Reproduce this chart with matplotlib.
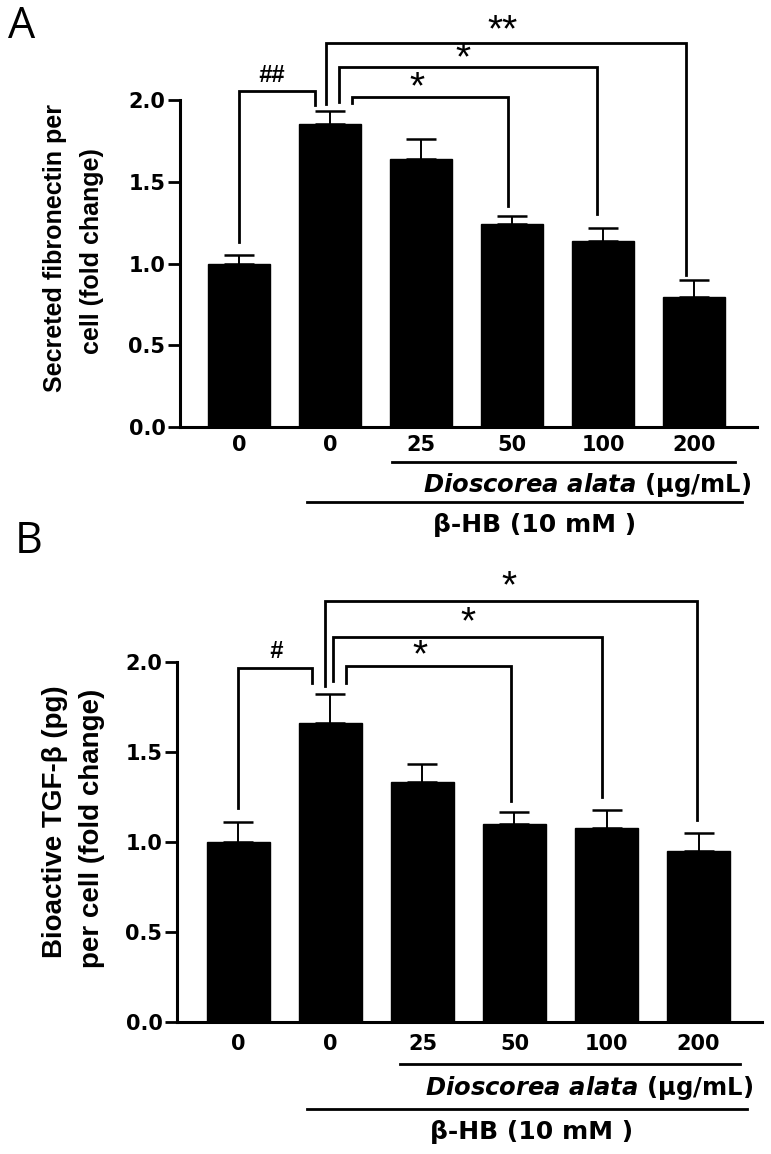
import matplotlib
matplotlib.use("agg")
import matplotlib.pyplot as plt
import matplotlib.transforms as mtransforms
import numpy as np

# data
doses = ['0', '0', '25', '50', '100', '200']
fibronectin_mean = [1.00, 1.855, 1.64, 1.24, 1.135, 0.795]
fibronectin_sem = [0.05, 0.08, 0.12, 0.05, 0.085, 0.105]
tgf_mean = [1.00, 1.66, 1.335, 1.10, 1.08, 0.95]
tgf_sem = [0.11, 0.165, 0.10, 0.065, 0.10, 0.10]
y_ticks = [0.0, 0.5, 1.0, 1.5, 2.0]

# significance brackets:
# (x left leg, x right leg, y left end, y right end, y top, mark, mark x, mark y)
fibronectin_marks = [
    (0.0, 0.835, 1.13, 1.97, 2.055, '##', 0.36, 2.16),
    (1.24, 2.95, 1.98, 1.35, 2.02, '*', 1.96, 2.11),
    (1.10, 3.93, 1.99, 1.30, 2.20, '*', 2.46, 2.29),
    (0.956, 4.91, 1.975, 0.93, 2.35, '**', 2.89, 2.46),
]
tgf_marks = [
    (0.0, 0.80, 1.19, 1.883, 1.967, '#', 0.41, 2.07),
    (1.17, 2.96, 1.883, 1.23, 1.98, '*', 1.97, 2.07),
    (1.03, 3.95, 1.894, 1.25, 2.14, '*', 2.49, 2.25),
    (0.94, 4.98, 1.867, 1.12, 2.34, '*', 2.94, 2.45),
]

W, H = 771, 1154
plt.rcParams['font.family'] = ['DejaVu Sans']
plt.rcParams['mathtext.fontset'] = 'custom'
plt.rcParams['mathtext.it'] = 'DejaVu Sans:italic:bold'
plt.rcParams['mathtext.rm'] = 'DejaVu Sans:bold'

fig = plt.figure(figsize=(W / 100, H / 100), dpi=100)


def px_axes(left, right, top, bottom):
    return fig.add_axes([left / W, 1 - bottom / H, (right - left) / W, (bottom - top) / H])


def draw_panel(ax, means, sems, marks, xlim, tick_pad, lines_y):
    x = np.arange(len(doses))
    ax.bar(x, means, width=0.68, color='black', edgecolor='black', zorder=2)
    ax.errorbar(x, means, yerr=[np.zeros(len(sems)), sems], fmt='none',
                ecolor='black', elinewidth=1.4, capsize=11, capthick=1.8, zorder=1)
    ax.set_xlim(*xlim)
    ax.set_ylim(0, 2.0)
    for s in ['top', 'right']:
        ax.spines[s].set_visible(False)
    for s in ['left', 'bottom']:
        ax.spines[s].set_linewidth(2.2)
    ax.set_yticks(y_ticks)
    ax.set_yticklabels(['%.1f' % t for t in y_ticks])
    ax.set_xticks(x)
    ax.set_xticklabels(doses)
    ax.tick_params(axis='y', length=8.5, width=2, pad=2, labelsize=15)
    ax.tick_params(axis='x', length=0, pad=tick_pad, labelsize=15)
    for lab in ax.get_xticklabels() + ax.get_yticklabels():
        lab.set_fontweight('bold')

    for xl, xr, yl, yr, top, mark, mx, my in marks:
        ax.plot([xl, xl, xr, xr], [yl, top, top, yr], color='black', lw=2.0,
                clip_on=False, solid_joinstyle='miter', zorder=3)
        if '#' in mark:
            ax.annotate(mark, (mx, my), xytext=(0, -6), textcoords='offset points',
                        ha='center', va='baseline', fontsize=17, style='italic',
                        fontweight='bold', family='Liberation Sans',
                        annotation_clip=False)
        else:
            ax.annotate(mark, (mx, my), xytext=(0, -12), textcoords='offset points',
                        ha='center', va='baseline', fontsize=28,
                        family='Liberation Sans', annotation_clip=False)

    tr = mtransforms.blended_transform_factory(ax.transData, ax.transAxes)
    (d_x0, d_x1, d_y), (d_tx, d_ty), (b_x0, b_x1, b_y), (b_tx, b_ty) = lines_y
    ax.plot([d_x0, d_x1], [d_y, d_y], transform=tr, color='black', lw=2.0, clip_on=False)
    ax.text(d_tx, d_ty, r'$\mathit{Dioscorea\ alata}$ (µg/mL)', transform=tr,
            ha='right', va='center', fontsize=17.5, fontweight='bold')
    ax.plot([b_x0, b_x1], [b_y, b_y], transform=tr, color='black', lw=2.0, clip_on=False)
    ax.text(b_tx, b_ty, 'β-HB (10 mM )', transform=tr, ha='center', va='center',
            fontsize=18, fontweight='bold')


# panel A
axA = px_axes(180, 757, 100, 427)
draw_panel(axA, fibronectin_mean, fibronectin_sem, fibronectin_marks, (-0.648, 5.69), 6,
           [(1.68, 5.45, -0.107), (5.62, -0.177), (0.75, 5.52, -0.229), (3.25, -0.299)])

# panel B
axB = px_axes(177, 762, 662, 1022)
draw_panel(axB, tgf_mean, tgf_sem, tgf_marks, (-0.668, 5.69), 8.5,
           [(1.76, 5.45, -0.117), (5.59, -0.183), (0.74, 5.53, -0.242), (3.19, -0.306)])

# y-axis labels (two lines each)
fig.text(55 / W, 1 - 248 / H, 'Secreted fibronectin per', rotation=90, ha='center',
         va='center', fontsize=18, fontweight='bold', family='Liberation Sans')
fig.text(92 / W, 1 - 251 / H, 'cell (fold change)', rotation=90, ha='center',
         va='center', fontsize=18, fontweight='bold', family='Liberation Sans')
fig.text(55 / W, 1 - 822 / H, 'Bioactive TGF-β (pg)', rotation=90, ha='center',
         va='center', fontsize=20, fontweight='bold', family='Liberation Sans')
fig.text(92 / W, 1 - 828 / H, 'per cell (fold change)', rotation=90, ha='center',
         va='center', fontsize=20, fontweight='bold', family='Liberation Sans')

# panel letters
fig.text(8 / W, 1 - 38 / H, 'A', ha='left', va='baseline', fontsize=31, family='Open Sans')
fig.text(15 / W, 1 - 553 / H, 'B', ha='left', va='baseline', fontsize=31, family='Open Sans')

fig.savefig('out.png', dpi=100, facecolor='white')
